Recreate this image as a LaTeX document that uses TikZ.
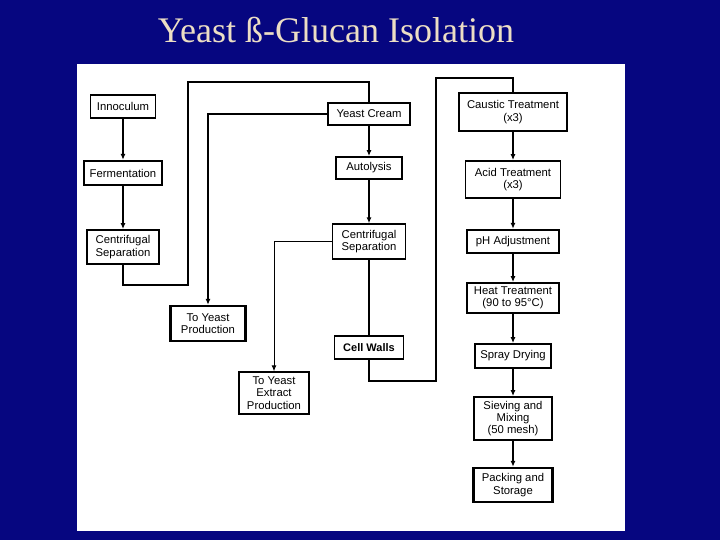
\documentclass[tikz,border=0pt]{standalone}
\usepackage{fontspec}
\setmainfont{Liberation Sans}
\newfontfamily\titlefont{Liberation Serif}
\usetikzlibrary{arrows.meta}
\definecolor{navy}{RGB}{6,6,128}
\definecolor{titlecol}{RGB}{236,222,196}
\tikzset{
  proc/.style={draw, fill=white, inner sep=0pt, align=center, font=\fontsize{11.3}{12.3}\selectfont},
  bwa/.style={line width=1.4pt},
  bwb/.style={line width=1.8pt},
  bwc/.style={line width=2.4pt},
  flow/.style={line width=1.2pt, -{Latex[length=6pt,width=5pt]}},
  flowthin/.style={line width=0.9pt, -{Latex[length=6pt,width=5pt]}},
  flowmid/.style={line width=1.7pt, -{Latex[length=6pt,width=5pt]}},
  loopline/.style={line width=2.5pt},
  plain/.style={line width=1.4pt}
}
\begin{document}
\begin{tikzpicture}[x=1pt,y=-1pt]
\fill[navy] (0,0) rectangle (720,540);
\useasboundingbox (0,0) rectangle (720,540);
\fill[white] (77,64) rectangle (625,531);
\node[font=\titlefont\fontsize{36}{36}\selectfont, text=titlecol, anchor=base] (title) at (336,43) {Yeast ß-Glucan Isolation};

% left column
\node[proc,bwb,minimum width=65pt,minimum height=23pt] (inno) at (123,106.5) {Innoculum};
\node[proc,bwc,minimum width=78pt,minimum height=24pt] (ferm) at (123,173) {Fermentation};
\node[proc,bwb,minimum width=72pt,minimum height=34pt] (cent1) at (123,247) {Centrifugal\\Separation};

% middle column
\node[proc,bwc,minimum width=82pt,minimum height=22pt] (cream) at (369,114) {Yeast Cream};
\node[proc,bwb,minimum width=66pt,minimum height=22pt] (auto) at (369,168) {Autolysis};
\node[proc,bwa,minimum width=73pt,minimum height=35pt] (cent2) at (369,241.5) {Centrifugal\\Separation};
\node[proc,bwb,minimum width=69pt,minimum height=23pt,font=\fontsize{11}{12}\selectfont\bfseries] (cell) at (369,347.5) {Cell Walls};

\node[proc,bwc,minimum width=75pt,minimum height=35pt] (typ) at (208,323.5) {To Yeast\\Production};
\node[proc,bwa,minimum width=70pt,minimum height=42pt] (tye) at (274,393) {To Yeast\\Extract\\Production};

% right column
\node[proc,bwc,minimum width=108pt,minimum height=38pt] (caus) at (513,112) {Caustic Treatment\\(x3)};
\node[proc,bwb,minimum width=95pt,minimum height=37pt] (acid) at (513,179.5) {Acid Treatment\\(x3)};
\node[proc,bwc,minimum width=92pt,minimum height=23pt] (ph) at (513,241.5) {pH Adjustment};
\node[proc,bwb,minimum width=92pt,minimum height=30pt] (heat) at (513,298) {Heat Treatment\\(90 to 95°C)};
\node[proc,bwb,minimum width=76pt,minimum height=24pt] (spray) at (513,356) {Spray Drying};
\node[proc,bwb,minimum width=78pt,minimum height=43pt] (siev) at (513,418.5) {Sieving and\\Mixing\\(50 mesh)};
\node[proc,bwc,minimum width=79pt,minimum height=34pt] (pack) at (513,485) {Packing and\\Storage};

% corner coordinates
\coordinate (a1) at (188,285);
\coordinate (a2) at (188,82);
\coordinate (a3) at (369,82);
\coordinate (d1) at (436,381);
\coordinate (d2) at (436,78);

% connectors
\draw[flow] (inno) -- (ferm);
\draw[flow] (ferm) -- (cent1);
\draw[loopline] (cent1.south) |- (a1) -- (a2) -- (a3) -- (cream.north);
\draw[flowmid] (cream.west) -| (typ.north);
\draw[flowmid] (cream) -- (auto);
\draw[flowmid] (auto) -- (cent2);
\draw[flowthin] (cent2.west) -| (tye.north);
\draw[plain] (cent2) -- (cell);
\draw[loopline] (cell.south) |- (d1) -- (d2) -| (caus.north);
\draw[flow] (caus) -- (acid);
\draw[flow] (acid) -- (ph);
\draw[flow] (ph) -- (heat);
\draw[flow] (heat) -- (spray);
\draw[flow] (spray) -- (siev);
\draw[flow] (siev) -- (pack);
\end{tikzpicture}
\end{document}
